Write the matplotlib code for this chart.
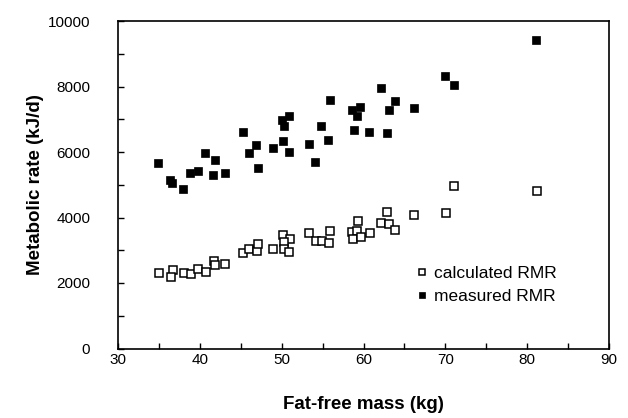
import matplotlib
matplotlib.use("Agg")
import matplotlib.pyplot as plt
from matplotlib.ticker import MultipleLocator

plt.rcParams['font.family'] = ['Liberation Sans', 'DejaVu Sans']

# fat-free mass (kg) and metabolic rate (kJ/d)
calc_ffm = [35.05, 36.68, 36.48, 38.07, 38.89, 39.82, 40.76, 41.74, 41.86, 43.08,
            45.24, 46.05, 46.96, 47.15, 48.99, 50.13, 51.03, 50.29, 50.29, 50.94,
            53.39, 54.18, 54.94, 55.92, 55.83, 59.38, 58.61, 59.26, 58.77, 59.67,
            60.81, 62.85, 62.15, 63.17, 63.86, 66.19, 70.1, 71.11, 81.19]
calc_rmr = [2318, 2401, 2196, 2318, 2278, 2422, 2349, 2685, 2554, 2584,
            2911, 3034, 2982, 3196, 3034, 3471, 3339, 3266, 3034, 2942,
            3523, 3297, 3297, 3602, 3235, 3878, 3572, 3602, 3339, 3419,
            3523, 4153, 3847, 3807, 3624, 4083, 4135, 4948, 4795]

meas_ffm = [34.93, 36.3, 36.6, 37.98, 38.8, 39.74, 40.64, 41.65, 41.86, 43.04,
            45.24, 45.98, 46.83, 47.11, 48.91, 50.05, 50.9, 50.3, 50.21, 50.87,
            53.31, 54.12, 54.85, 55.71, 55.88, 58.6, 59.6, 59.2, 58.85, 60.72,
            62.11, 63.86, 63.17, 66.15, 62.85, 69.98, 71.11, 81.1]
meas_rmr = [5664, 5150, 5050, 4869, 5358, 5407, 5957, 5284, 5743, 5358,
            6612, 5957, 6214, 5511, 6131, 6988, 7110, 6804, 6324, 5988,
            6254, 5703, 6783, 6376, 7578, 7294, 7385, 7110, 6661, 6621,
            7945, 7547, 7272, 7346, 6581, 8333, 8037, 9434]

fig = plt.figure(figsize=(6.28, 4.18), dpi=100)
ax = fig.add_axes([118/628, 1 - 348.5/418, (609 - 118)/628, (348.5 - 21)/418])

ax.plot(calc_ffm, calc_rmr, 's', ms=5.2, mfc='white', mec='black', mew=1.1,
        label='calculated RMR')
ax.plot(meas_ffm, meas_rmr, 's', ms=6.0, mfc='black', mec='black', mew=0.5,
        label='measured RMR')

ax.set_xlim(30, 90)
ax.set_ylim(0, 10000)
ax.xaxis.set_major_locator(MultipleLocator(10))
ax.xaxis.set_minor_locator(MultipleLocator(5))
ax.yaxis.set_major_locator(MultipleLocator(2000))
ax.yaxis.set_minor_locator(MultipleLocator(1000))
ax.tick_params(which='both', direction='in', top=False, right=False, width=1.0)
ax.tick_params(which='major', length=4)
ax.tick_params(which='minor', length=4)
ax.tick_params(axis='x', pad=3, labelsize=11)
ax.tick_params(axis='y', pad=20, labelsize=11)
for sp in ax.spines.values():
    sp.set_linewidth(1.2)

ax.set_xlabel('Fat-free mass (kg)', fontsize=13.5, fontweight='bold', labelpad=21)
ax.set_ylabel('Metabolic rate (kJ/d)', fontsize=13.5, fontweight='bold', labelpad=3)

ax.legend(loc='center left', bbox_to_anchor=(0.607, 0.194), frameon=False,
          borderaxespad=0, borderpad=0, handlelength=0.7, handletextpad=0.35,
          labelspacing=0.45, markerscale=0.8, fontsize=12.5, numpoints=1)

fig.savefig('out.png', dpi=100)
